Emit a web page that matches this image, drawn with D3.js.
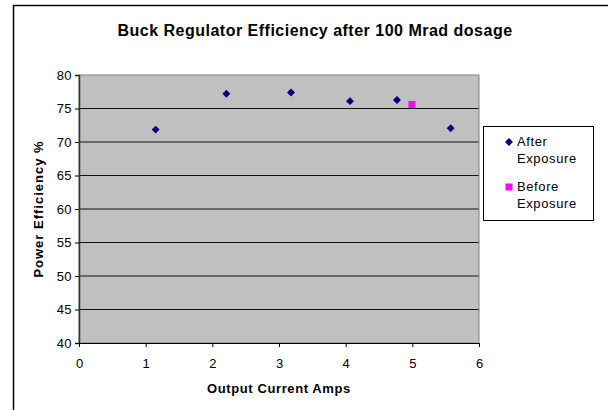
<!DOCTYPE html>
<html><head><meta charset="utf-8">
<script src="https://cdn.jsdelivr.net/npm/d3@7"></script>
<style>body{margin:0;background:#fff}svg{display:block;font-family:Arial,"Liberation Sans",sans-serif}</style>
</head><body><svg id="c" width="608" height="410"></svg>
<script>
const afterX = [1.15, 2.21, 3.18, 4.065, 4.77, 5.575];
const afterY = [71.85, 77.2, 77.4, 76.1, 76.27, 72.05];
const beforeX = [4.995];
const beforeY = [75.6];
const xTicks = [0,1,2,3,4,5,6];
const yTicks = [40,45,50,55,60,65,70,75,80];
const title = "Buck Regulator Efficiency after 100 Mrad dosage";
const xTitle = "Output Current Amps";
const yTitle = "Power Efficiency %";
const seriesNames = ["After Exposure","Before Exposure"];

const svg = d3.select("#c");
const L=79, R=479, T=75, B=343;
const x = d3.scaleLinear().domain([0,6]).range([L,R]);
const y = d3.scaleLinear().domain([40,80]).range([B,T]);
const FF = "Arial,'Liberation Sans',sans-serif";

svg.append("path").attr("d","M13.5,420 V5.5 H620").attr("fill","none").attr("stroke","#000").attr("stroke-width",1.5);

svg.append("text").attr("x",315).attr("y",36).attr("text-anchor","middle")
  .attr("font-size",16).attr("font-weight","bold").attr("letter-spacing",0.5).text(title);

svg.append("rect").attr("x",L).attr("y",T).attr("width",R-L).attr("height",B-T).attr("fill","#c0c0c0");
svg.append("g").selectAll("line").data(yTicks.filter(d=>d>40&&d<80)).join("line")
  .attr("x1",L).attr("x2",R).attr("y1",d=>y(d)).attr("y2",d=>y(d)).attr("stroke","#111").attr("stroke-width",1.2);
svg.append("rect").attr("x",L).attr("y",T).attr("width",R-L).attr("height",B-T).attr("fill","none").attr("stroke","#808080").attr("stroke-width",1);

const ya = svg.append("g").attr("transform",`translate(${L},0)`)
  .call(d3.axisLeft(y).tickValues(yTicks).tickSize(4).tickPadding(3).tickFormat(d3.format("d")));
ya.select(".domain").attr("stroke","#333").attr("stroke-width",1.5);
ya.selectAll("text").attr("font-size",13).attr("font-family",FF).attr("fill","#000").attr("letter-spacing",0.4);
const xa = svg.append("g").attr("transform",`translate(0,${B})`)
  .call(d3.axisBottom(x).tickValues(xTicks).tickSize(4).tickPadding(12).tickFormat(d3.format("d")));
xa.select(".domain").attr("stroke","#000");
xa.selectAll("text").attr("font-size",13).attr("font-family",FF).attr("fill","#000");

svg.append("text").attr("x",(L+R)/2).attr("y",393).attr("text-anchor","middle")
  .attr("font-size",13).attr("font-weight","bold").attr("letter-spacing",0.6).text(xTitle);
svg.append("text").attr("transform",`translate(43,${(T+B)/2}) rotate(-90)`).attr("text-anchor","middle")
  .attr("font-size",13).attr("font-weight","bold").attr("letter-spacing",1).text(yTitle);

const diamond = d3.symbol().type(d3.symbolDiamond2).size(40);
svg.append("g").selectAll("path").data(afterX.map((d,i)=>[d,afterY[i]])).join("path")
  .attr("d",diamond).attr("transform",d=>`translate(${x(d[0])},${y(d[1])})`).attr("fill","#000080");
svg.append("g").selectAll("rect").data(beforeX.map((d,i)=>[d,beforeY[i]])).join("rect")
  .attr("x",d=>x(d[0])-3.5).attr("y",d=>y(d[1])-3.5).attr("width",7).attr("height",7).attr("fill","#ff00ff");

const lg = svg.append("g");
lg.append("rect").attr("x",483.5).attr("y",126.5).attr("width",110).attr("height",94).attr("fill","#fff").attr("stroke","#000");
lg.append("path").attr("d",diamond).attr("transform","translate(509,142)").attr("fill","#000080");
lg.append("rect").attr("x",505.5).attr("y",183.5).attr("width",7).attr("height",7).attr("fill","#ff00ff");
const lines = [["After",146],["Exposure",163],["Before",191],["Exposure",208]];
lg.selectAll("text").data(lines).join("text").attr("x",517).attr("y",d=>d[1]).attr("font-size",13).attr("letter-spacing",0.6).text(d=>d[0]);
</script></body></html>
